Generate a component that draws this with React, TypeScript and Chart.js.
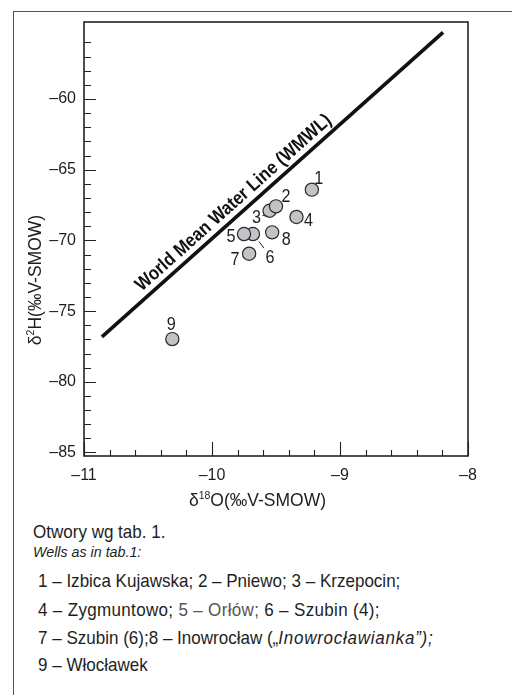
import React, { useEffect, useRef } from 'react';
import { Chart, registerables } from 'chart.js';

Chart.register(...registerables);

// ---------- data ----------
// drawing order: 3 under 2, 6 under 5
const wellIds = ['1', '3', '2', '4', '6', '5', '7', '8', '9'];
const wellD18O = [-9.22, -9.55, -9.50, -9.34, -9.68, -9.75, -9.71, -9.53, -10.31];
const wellD2H = [-66.41, -67.90, -67.59, -68.34, -69.55, -69.55, -70.94, -69.43, -76.98];

const wmwlD18O = [-10.86, -8.195];
const wmwlD2H = [-76.82, -55.29];
const wmwlLabel = 'World Mean Water Line (WMWL)';

const xMajorTicks = [-11, -10, -9, -8];
const xMinorTicks = [-10.8, -10.6, -10.4, -10.2, -9.8, -9.6, -9.4, -9.2, -8.8, -8.6, -8.4, -8.2];
const yMajorTicks = [-85, -80, -75, -70, -65, -60];
const yMinorTicks = [-84, -83, -82, -81, -79, -78, -77, -76, -74, -73, -72, -71, -69, -68, -67, -66, -64, -63, -62, -61, -59, -58, -57, -56];

const xTitle = ['δ', '18', 'O(‰V-SMOW)'];
const yTitle = ['δ', '2', 'H(‰V-SMOW)'];

const noteTitle = 'Otwory wg tab. 1.';
const noteTitleEn = 'Wells as in tab.1:';

// ---------- styles ----------
const FONT = "'Liberation Sans', Arial, sans-serif";
const W = 512;
const CANVAS_H = 520;
const AREA = { left: 84, top: 22, right: 468, bottom: 456 };
// label offsets (px) relative to point centre, keyed by well id
const LABEL_OFFSET: Record<string, [number, number]> = {
  '1': [7, -12], '2': [10, -10], '3': [-13, 6.5], '4': [12, 3], '5': [-13, 1.5],
  '6': [17, 22.5], '7': [-14, 5.5], '8': [14, 7], '9': [-1, -15],
};
const LEADERS: Record<string, [number, number, number, number]> = {
  '3': [-7, 4.7, -2, 5.5],
  '6': [6, 7.5, 11, 14],
};

function drawRich(ctx: CanvasRenderingContext2D, parts: string[], big: number, small: number) {
  const fonts = [`${big}px ${FONT}`, `${small}px ${FONT}`, `${big}px ${FONT}`];
  const widths = parts.map((p, i) => { ctx.font = fonts[i]; return ctx.measureText(p).width; });
  const total = widths.reduce((a, b) => a + b, 0);
  let cx = -total / 2;
  parts.forEach((p, i) => {
    ctx.font = fonts[i];
    ctx.fillText(p, cx, i === 1 ? -big * 0.42 : 0);
    cx += widths[i];
  });
}

const overlay = {
  id: 'overlay',
  afterDraw(chart: any) {
    const { ctx, chartArea: a, scales } = chart;
    const xs = scales.x;
    const ys = scales.y;
    ctx.save();
    ctx.strokeStyle = '#222';
    ctx.fillStyle = '#1e1e1e';

    // frame
    ctx.lineWidth = 1.6;
    ctx.strokeRect(a.left, a.top, a.right - a.left, a.bottom - a.top);

    // inward ticks
    ctx.lineWidth = 1.1;
    ctx.beginPath();
    xMajorTicks.forEach((v) => {
      const px = Math.round(xs.getPixelForValue(v)) + 0.5;
      ctx.moveTo(px, a.bottom); ctx.lineTo(px, a.bottom - 14);
    });
    xMinorTicks.forEach((v) => {
      const px = Math.round(xs.getPixelForValue(v)) + 0.5;
      ctx.moveTo(px, a.bottom); ctx.lineTo(px, a.bottom - 6);
    });
    yMajorTicks.forEach((v) => {
      const py = Math.round(ys.getPixelForValue(v)) + 0.5;
      ctx.moveTo(a.left, py); ctx.lineTo(a.left + 12, py);
    });
    yMinorTicks.forEach((v) => {
      const py = Math.round(ys.getPixelForValue(v)) + 0.5;
      ctx.moveTo(a.left, py); ctx.lineTo(a.left + 7, py);
    });
    ctx.stroke();

    // point labels + leaders
    ctx.textAlign = 'center';
    ctx.textBaseline = 'middle';
    ctx.lineWidth = 1;
    wellIds.forEach((id, i) => {
      const px = xs.getPixelForValue(wellD18O[i]);
      const py = ys.getPixelForValue(wellD2H[i]);
      const [dx, dy] = LABEL_OFFSET[id];
      ctx.save();
      ctx.translate(px + dx, py + dy + 1);
      ctx.scale(0.9, 1);
      ctx.font = `18px ${FONT}`;
      ctx.fillText(id, 0, 0);
      ctx.restore();
      const l = LEADERS[id];
      if (l) {
        ctx.beginPath();
        ctx.moveTo(px + l[0], py + l[1]);
        ctx.lineTo(px + l[2], py + l[3]);
        ctx.stroke();
      }
    });

    // WMWL label
    const p0x = xs.getPixelForValue(wmwlD18O[0]);
    const p0y = ys.getPixelForValue(wmwlD2H[0]);
    const p1x = xs.getPixelForValue(wmwlD18O[1]);
    const p1y = ys.getPixelForValue(wmwlD2H[1]);
    const ang = Math.atan2(p1y - p0y, p1x - p0x);
    const t = 0.41;
    ctx.save();
    ctx.translate(p0x + (p1x - p0x) * t, p0y + (p1y - p0y) * t);
    ctx.rotate(ang);
    ctx.translate(0, -7);
    ctx.scale(0.88, 1);
    ctx.font = `bold 19px ${FONT}`;
    ctx.textAlign = 'center';
    ctx.textBaseline = 'alphabetic';
    ctx.fillStyle = '#111';
    ctx.fillText(wmwlLabel, 0, 0);
    ctx.restore();

    // axis titles
    ctx.textAlign = 'left';
    ctx.textBaseline = 'alphabetic';
    ctx.save();
    ctx.translate(257.5, 506);
    drawRich(ctx, xTitle, 17.5, 10.5);
    ctx.restore();
    ctx.save();
    ctx.translate(41, 280);
    ctx.rotate(-Math.PI / 2);
    drawRich(ctx, yTitle, 17.5, 10.5);
    ctx.restore();

    ctx.restore();
  },
};

const dash = (v: number) => (v < 0 ? '–' + Math.abs(v) : String(v));

export default function App() {
  const ref = useRef<HTMLCanvasElement | null>(null);

  useEffect(() => {
    if (!ref.current) return;
    const chart = new Chart(ref.current, {
      type: 'scatter',
      data: {
        datasets: [
          {
            type: 'line',
            label: 'WMWL',
            data: wmwlD18O.map((x, i) => ({ x, y: wmwlD2H[i] })),
            borderColor: '#111',
            borderWidth: 3.6,
            pointRadius: 0,
            fill: false,
            showLine: true,
          } as any,
          {
            label: 'Wells',
            data: wellD18O.map((x, i) => ({ x, y: wellD2H[i] })),
            pointRadius: 6.6,
            pointHoverRadius: 6.6,
            backgroundColor: '#c3c3c7',
            borderColor: '#2a2a2a',
            borderWidth: 1.2,
          },
        ],
      },
      options: {
        responsive: false,
        animation: false,
        devicePixelRatio: 1,
        layout: { padding: { left: 0, top: AREA.top, right: W - AREA.right, bottom: 0 } },
        plugins: { legend: { display: false }, tooltip: { enabled: false } },
        events: [],
        scales: {
          x: {
            type: 'linear',
            position: 'bottom',
            min: -11,
            max: -8,
            grid: { display: false, drawTicks: false },
            border: { display: false },
            afterBuildTicks: (s: any) => { s.ticks = xMajorTicks.map((v) => ({ value: v })); },
            afterFit: (s: any) => { s.height = CANVAS_H - AREA.bottom; },
            ticks: {
              autoSkip: false,
              maxRotation: 0,
              padding: 10,
              color: '#1e1e1e',
              font: { family: FONT, size: 16 },
              callback: (v: any) => dash(Number(v)),
            },
          },
          y: {
            type: 'linear',
            min: -85.25,
            max: -54.55,
            grid: { display: false, drawTicks: false },
            border: { display: false },
            afterBuildTicks: (s: any) => { s.ticks = yMajorTicks.map((v) => ({ value: v })); },
            afterFit: (s: any) => { s.width = AREA.left; },
            ticks: {
              autoSkip: false,
              padding: 8,
              color: '#1e1e1e',
              font: { family: FONT, size: 16 },
              callback: (v: any) => dash(Number(v)),
            },
          },
        },
      },
      plugins: [overlay],
    });
    return () => chart.destroy();
  }, []);

  const cond: React.CSSProperties = { position: 'absolute', whiteSpace: 'nowrap', lineHeight: 'normal', transform: 'scaleX(0.92)', transformOrigin: 'left top' };
  const line = (top: number, children: React.ReactNode, spacing = 0) => (
    <div style={{ ...cond, left: 38, top, fontSize: 18.5, letterSpacing: spacing }}>{children}</div>
  );

  return (
    <div style={{ position: 'absolute', left: 0, top: 0, width: W, height: 695, background: '#fff', overflow: 'hidden', fontFamily: FONT, color: '#1e1e1e' }}>
      <div style={{ position: 'absolute', left: 13, top: 11, width: W - 13, height: 695, borderLeft: '1px solid #555', borderTop: '1px solid #555', boxSizing: 'border-box' }} />
      <canvas ref={ref} width={W} height={CANVAS_H} style={{ position: 'absolute', left: 0, top: 0, width: W, height: CANVAS_H }} />
      <div style={{ ...cond, left: 33, top: 521.3, fontSize: 18.5 }}>{noteTitle}</div>
      <div style={{ ...cond, left: 33, top: 542.5, fontSize: 15.5, fontStyle: 'italic' }}>{noteTitleEn}</div>
      {line(570.3, <>1 – Izbica Kujawska; 2 – Pniewo; 3 – Krzepocin;</>)}
      {line(599.3, <>4 – Zygmuntowo; <span style={{ color: '#555' }}>5 – Orłów;</span> 6 – Szubin (4);</>, 0.35)}
      {line(627.3, <>7 – Szubin (6);8 – Inowrocław („<i style={{ letterSpacing: 0.8 }}>Inowrocławianka”);</i></>)}
      {line(654.3, <>9 – Włocławek</>)}
    </div>
  );
}
